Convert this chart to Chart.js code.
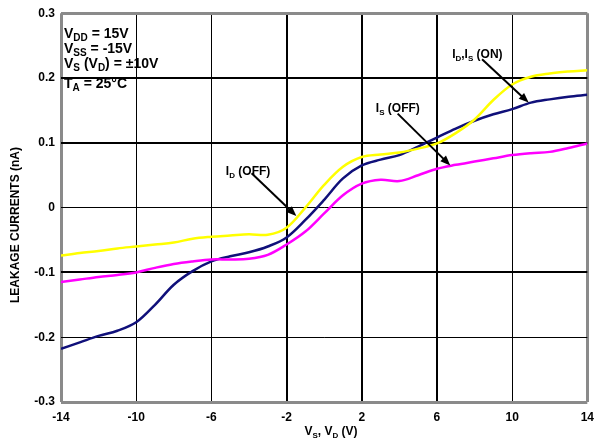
<!DOCTYPE html>
<html>
<head>
<meta charset="utf-8">
<script src="https://cdn.jsdelivr.net/npm/chart.js@4.4.1/dist/chart.umd.min.js"></script>
<style>
  html, body { margin: 0; padding: 0; background: #fff; }
  #wrap { width: 602px; height: 442px; position: relative; }
</style>
</head>
<body>
<div id="wrap"><canvas id="chart"></canvas></div>
<script>
// supply voltage V_S, V_D (V)
const voltages = [-14, -13, -12, -11, -10, -9, -8, -7, -6, -5, -4, -3, -2, -1, 0,
    1, 2, 3, 4, 5, 6, 7, 8, 9, 10, 11, 12, 13, 14];

// leakage currents (nA)
const idOff = [-0.074, -0.070, -0.067, -0.063, -0.060, -0.057, -0.054, -0.048, -0.045, -0.043,
    -0.041, -0.042, -0.031, 0.000, 0.035, 0.063, 0.078, 0.082, 0.085, 0.091,
    0.099, 0.115, 0.136, 0.166, 0.190, 0.202, 0.207, 0.210, 0.212];
const idIsOn = [-0.218, -0.208, -0.198, -0.190, -0.177, -0.150, -0.119, -0.098, -0.083, -0.075,
    -0.069, -0.060, -0.046, -0.019, 0.012, 0.045, 0.065, 0.074, 0.081, 0.094,
    0.108, 0.122, 0.134, 0.144, 0.152, 0.162, 0.167, 0.171, 0.174];
const isOff = [-0.115, -0.111, -0.107, -0.104, -0.100, -0.093, -0.087, -0.083, -0.080, -0.080,
    -0.079, -0.073, -0.057, -0.037, -0.009, 0.019, 0.037, 0.043, 0.041, 0.050,
    0.060, 0.066, 0.071, 0.076, 0.081, 0.084, 0.086, 0.092, 0.099];

const xTicks = [-14, -10, -6, -2, 2, 6, 10, 14];
const xTickLabels = ['-14', '-10', '-6', '-2', '2', '6', '10', '14'];
const yTicks = [-0.3, -0.2, -0.1, 0, 0.1, 0.2, 0.3];
const yTickLabels = ['-0.3', '-0.2', '-0.1', '0', '0.1', '0.2', '0.3'];

const xTitle = 'V_{S}, V_{D} (V)';
const yTitle = 'LEAKAGE CURRENTS (nA)';
const conditions = ['V_{DD} = 15V', 'V_{SS} = -15V', 'V_{S} (V_{D}) = \u00b110V', 'T_{A} = 25\u00b0C'];

// curve labels: text, label anchor, arrow start, arrow end (data units)
const curveLabels = ['I_{D} (OFF)', 'I_{S} (OFF)', 'I_{D},I_{S} (ON)'];
const labelAt = [[-5.23, 0.051], [2.75, 0.147], [6.81, 0.231]];
const arrowFrom = [[-3.86, 0.053], [3.91, 0.145], [8.40, 0.229]];
const arrowTo = [[-1.48, -0.013], [6.71, 0.065], [10.88, 0.162]];

const FONT = "'Liberation Sans', Arial, sans-serif";

function toPoints(ys) {
    return voltages.map((v, i) => ({x: v, y: ys[i]}));
}

// draws text where _{...} is a subscript
function drawRich(ctx, str, x, y, size) {
    const parts = str.split(/_\{([^}]*)\}/);
    const subSize = Math.round(size * 0.7);
    let cx = x;
    parts.forEach((part, i) => {
        if (!part) return;
        const sub = i % 2 === 1;
        ctx.font = `bold ${sub ? subSize : size}px ${FONT}`;
        ctx.fillText(part, cx, sub ? y + 3 : y);
        cx += ctx.measureText(part).width;
    });
    return cx - x;
}

function richWidth(ctx, str, size) {
    const parts = str.split(/_\{([^}]*)\}/);
    const subSize = Math.round(size * 0.7);
    let w = 0;
    parts.forEach((part, i) => {
        if (!part) return;
        ctx.font = `bold ${i % 2 ? subSize : size}px ${FONT}`;
        w += ctx.measureText(part).width;
    });
    return w;
}

function drawArrow(ctx, x1, y1, x2, y2) {
    const ang = Math.atan2(y2 - y1, x2 - x1);
    const len = 10, half = 4;
    ctx.strokeStyle = '#000';
    ctx.lineWidth = 2;
    ctx.beginPath();
    ctx.moveTo(x1, y1);
    ctx.lineTo(x2 - Math.cos(ang) * len * 0.8, y2 - Math.sin(ang) * len * 0.8);
    ctx.stroke();
    ctx.fillStyle = '#000';
    ctx.beginPath();
    ctx.moveTo(x2, y2);
    ctx.lineTo(x2 - Math.cos(ang) * len - Math.sin(ang) * half, y2 - Math.sin(ang) * len + Math.cos(ang) * half);
    ctx.lineTo(x2 - Math.cos(ang) * len + Math.sin(ang) * half, y2 - Math.sin(ang) * len - Math.cos(ang) * half);
    ctx.closePath();
    ctx.fill();
}

const textPlugin = {
    id: 'textPlugin',
    afterDraw(chart) {
        const ctx = chart.ctx;
        const xs = chart.scales.x, ys = chart.scales.y;
        const area = chart.chartArea;
        ctx.save();
        ctx.fillStyle = '#000';
        ctx.textBaseline = 'alphabetic';
        ctx.textAlign = 'left';

        // test conditions, top left
        const baselines = [36, 51, 66, 86];
        conditions.forEach((line, i) => {
            drawRich(ctx, line, area.left + 3, area.top + baselines[i] - 11, 14);
        });

        // curve labels and arrows
        curveLabels.forEach((label, i) => {
            const px = xs.getPixelForValue(labelAt[i][0]);
            const py = ys.getPixelForValue(labelAt[i][1]);
            ctx.fillStyle = '#000';
            drawRich(ctx, label, px, py, 12);
            drawArrow(ctx,
                xs.getPixelForValue(arrowFrom[i][0]), ys.getPixelForValue(arrowFrom[i][1]),
                xs.getPixelForValue(arrowTo[i][0]), ys.getPixelForValue(arrowTo[i][1]));
        });

        // x axis title
        ctx.fillStyle = '#000';
        const w = richWidth(ctx, xTitle, 12);
        drawRich(ctx, xTitle, 331 - w / 2, 435, 12);

        // y axis title
        ctx.translate(19, 225);
        ctx.rotate(-Math.PI / 2);
        ctx.font = `bold 12px ${FONT}`;
        ctx.textAlign = 'center';
        ctx.fillText(yTitle, 0, 0);
        ctx.restore();
    }
};

const thickX = [-2, 2, 6];
const thickY = [-0.1, 0.1, 0.2];

new Chart(document.getElementById('chart'), {
    type: 'line',
    data: {
        datasets: [
            {
                label: 'ID (OFF)',
                data: toPoints(idOff),
                borderColor: '#ffff00',
                borderWidth: 2.5,
                pointRadius: 0,
                tension: 0.35
            },
            {
                label: 'IS (OFF)',
                data: toPoints(isOff),
                borderColor: '#ff00ff',
                borderWidth: 2.5,
                pointRadius: 0,
                tension: 0.35
            },
            {
                label: 'ID, IS (ON)',
                data: toPoints(idIsOn),
                borderColor: '#10107a',
                borderWidth: 2.5,
                pointRadius: 0,
                tension: 0.35
            }
        ]
    },
    options: {
        responsive: true,
        maintainAspectRatio: false,
        animation: false,
        layout: {padding: {top: 11, right: 11, left: 0, bottom: 0}},
        plugins: {
            legend: {display: false},
            tooltip: {enabled: false}
        },
        scales: {
            x: {
                type: 'linear',
                min: -14,
                max: 14,
                afterBuildTicks: (s) => { s.ticks = xTicks.map(v => ({value: v})); },
                afterFit: (s) => { s.height = 40; },
                border: {display: false},
                grid: {
                    drawTicks: false,
                    color: (c) => (c.tick && Math.abs(c.tick.value) === 14) ? '#8a8a8a' : '#000',
                    lineWidth: (c) => {
                        if (!c.tick) return 1;
                        if (Math.abs(c.tick.value) === 14) return 3;
                        return thickX.includes(c.tick.value) ? 2 : 1;
                    }
                },
                ticks: {
                    padding: 8,
                    color: '#000',
                    font: {family: FONT, size: 12, weight: 'bold'},
                    callback: (v) => xTickLabels[xTicks.indexOf(v)]
                }
            },
            y: {
                min: -0.3,
                max: 0.3,
                afterBuildTicks: (s) => { s.ticks = yTicks.map(v => ({value: v})); },
                afterFit: (s) => { s.width = 61; },
                border: {display: false},
                grid: {
                    drawTicks: false,
                    color: (c) => (c.index === 0 || c.index === yTicks.length - 1) ? '#8a8a8a' : '#000',
                    lineWidth: (c) => {
                        if (c.index === 0 || c.index === yTicks.length - 1) return 3;
                        return thickY.includes(yTicks[c.index]) ? 2 : 1;
                    }
                },
                ticks: {
                    padding: 6,
                    color: '#000',
                    font: {family: FONT, size: 12, weight: 'bold'},
                    callback: (v, i) => yTickLabels[i]
                }
            }
        }
    },
    plugins: [textPlugin]
});
</script>
</body>
</html>
